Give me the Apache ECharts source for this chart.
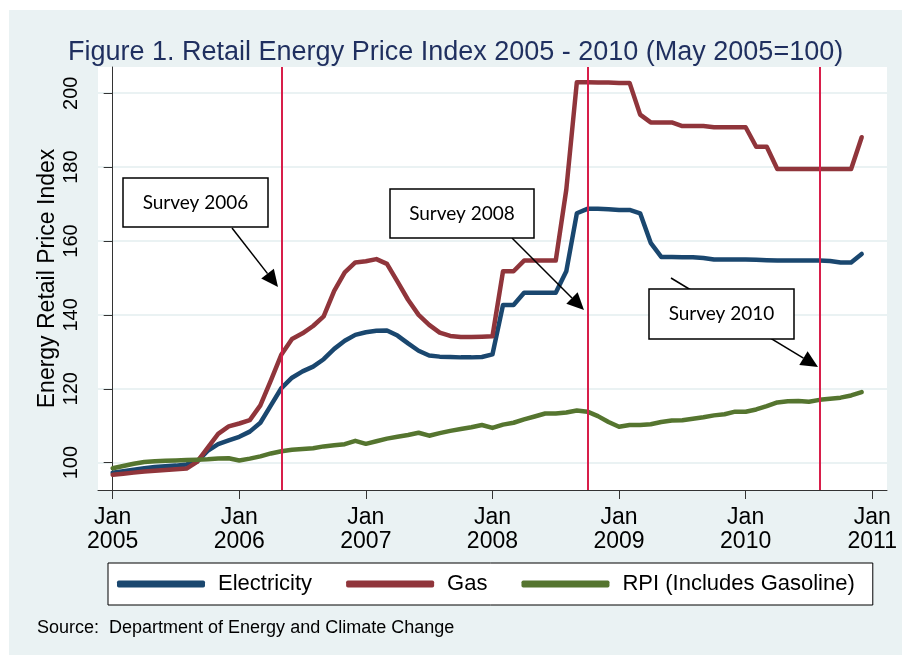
<!DOCTYPE html>
<html>
<head>
<meta charset="utf-8">
<script src="https://cdn.jsdelivr.net/npm/echarts@6/dist/echarts.min.js"></script>
<style>
  html, body { margin: 0; padding: 0; background: #fff; }
  #chart { width: 902px; height: 655px; }
</style>
</head>
<body>
<div id="chart"></div>
<script>
// Monthly index, month 0 = Jan 2005 ... month 71 = Dec 2010
const electricity = [
    97.3, 97.7, 98.1, 98.5, 98.8, 99.0, 99.2, 99.5, 100.3, 103.2, 105.0, 106.0,
    107.0, 108.4, 110.8, 115.5, 120.2, 123.0, 124.7, 126.0, 128.0, 130.8, 133.0, 134.6,
    135.3, 135.7, 135.8, 134.4, 132.3, 130.3, 129.0, 128.7, 128.6, 128.5, 128.5, 128.6,
    129.3, 142.7, 142.7, 146.0, 146.0, 146.0, 146.0, 151.8, 167.5, 168.7, 168.7, 168.6,
    168.4, 168.4, 167.5, 159.5, 155.7, 155.7, 155.6, 155.6, 155.4, 155.0, 155.0, 155.0,
    155.0, 154.9, 154.8, 154.7, 154.7, 154.7, 154.7, 154.7, 154.6, 154.2, 154.2, 156.5
];
const gas = [
    96.7, 97.0, 97.3, 97.6, 97.8, 98.0, 98.2, 98.4, 100.2, 104.0, 107.8, 109.8,
    110.6, 111.5, 115.5, 122.3, 129.3, 133.5, 135.0, 137.0, 139.6, 146.5, 151.5, 154.2,
    154.5, 155.1, 153.8, 149.0, 144.1, 140.0, 137.3, 135.2, 134.3, 134.0, 134.0, 134.1,
    134.2, 151.8, 151.8, 154.7, 154.7, 154.7, 154.7, 173.9, 203.0, 203.0, 202.9, 202.9,
    202.8, 202.8, 194.2, 192.1, 192.1, 192.1, 191.1, 191.1, 191.1, 190.8, 190.8, 190.8,
    190.8, 185.5, 185.5, 179.5, 179.5, 179.5, 179.5, 179.5, 179.5, 179.5, 179.5, 188.1
];
const rpi = [
    98.5, 99.1, 99.7, 100.2, 100.4, 100.5, 100.6, 100.7, 100.8, 100.9, 101.1, 101.2,
    100.6, 101.1, 101.7, 102.5, 103.1, 103.5, 103.7, 103.9, 104.4, 104.7, 105.0, 105.9,
    105.1, 105.8, 106.5, 107.0, 107.5, 108.1, 107.3, 108.0, 108.6, 109.1, 109.6, 110.2,
    109.4, 110.3, 110.8, 111.7, 112.5, 113.3, 113.3, 113.6, 114.1, 113.8, 112.6, 111.0,
    109.7, 110.2, 110.2, 110.4, 111.0, 111.4, 111.5, 111.9, 112.3, 112.8, 113.1, 113.8,
    113.8, 114.4, 115.3, 116.3, 116.6, 116.7, 116.5, 117.0, 117.3, 117.6, 118.2, 119.1
];
const yearTicks = [0, 12, 24, 36, 48, 60, 72];
const yearLabels = ['2005', '2006', '2007', '2008', '2009', '2010', '2011'];
const yTicks = [100, 120, 140, 160, 180, 200];
const surveyMonths = [16, 45, 67];   // May 2006, Oct 2008, Aug 2010
const surveyNames = ['Survey 2006', 'Survey 2008', 'Survey 2010'];

const FONT = "'Liberation Sans', Arial, sans-serif";

const toPoints = arr => arr.map((v, i) => [i, v]);

// arrow = line + filled head
function arrow(x1, y1, x2, y2) {
    const a = Math.atan2(y2 - y1, x2 - x1);
    const len = 17, half = 8;
    const bx = x2 - len * Math.cos(a), by = y2 - len * Math.sin(a);
    return [
        { type: 'line', z: 10, silent: true,
          shape: { x1: x1, y1: y1, x2: bx, y2: by },
          style: { stroke: '#000', lineWidth: 1.5 } },
        { type: 'polygon', z: 10, silent: true,
          shape: { points: [[x2, y2],
                            [bx + half * Math.sin(a), by - half * Math.cos(a)],
                            [bx - half * Math.sin(a), by + half * Math.cos(a)]] },
          style: { fill: '#000' } }
    ];
}

function box(x, y, w, h, label) {
    return [
        { type: 'rect', z: 11, silent: true,
          shape: { x: x, y: y, width: w, height: h },
          style: { fill: '#fff', stroke: '#000', lineWidth: 1.5 } },
        { type: 'text', z: 12, silent: true,
          style: { x: x + w / 2, y: y + h / 2, text: label, align: 'center', verticalAlign: 'middle',
                   fontFamily: 'Lato', fontSize: 19, fill: '#000' } }
    ];
}

const chart = echarts.init(document.getElementById('chart'));

const option = {
    animation: false,
    backgroundColor: '#fff',
    title: [
        {
            text: 'Figure 1. Retail Energy Price Index 2005 - 2010 (May 2005=100)',
            left: 63,
            top: 34,
            textStyle: { fontFamily: FONT, fontSize: 27, fontWeight: 'normal', color: '#1f2f5f' }
        },
        {
            text: 'Source:  Department of Energy and Climate Change',
            left: 32,
            top: 614,
            textStyle: { fontFamily: FONT, fontSize: 18, fontWeight: 'normal', color: '#000' }
        }
    ],
    graphic: [
        { type: 'rect', z: -10, silent: true,
          shape: { x: 9, y: 10, width: 893, height: 645 },
          style: { fill: '#eaf2f3' } },
        ...arrow(232, 228, 278, 287),
        ...arrow(512, 238, 584, 310),
        ...arrow(671, 278, 818, 367),
        ...box(123, 178, 145, 49, surveyNames[0]),
        ...box(390, 189, 144, 49, surveyNames[1]),
        ...box(649, 289, 145, 50, surveyNames[2])
    ],
    legend: {
        left: 108,
        top: 563,
        padding: [10, 18, 10, 9],
        itemGap: 34,
        itemWidth: 88,
        itemHeight: 7,
        icon: 'roundRect',
        borderColor: '#000',
        borderWidth: 1,
        backgroundColor: '#fff',
        textStyle: { fontFamily: FONT, fontSize: 22, color: '#000', padding: [0, 0, 0, 8] },
        data: ['Electricity', 'Gas', 'RPI (Includes Gasoline)']
    },
    grid: {
        left: 98,
        top: 67,
        width: 789,
        height: 423,
        show: true,
        backgroundColor: '#fff',
        borderWidth: 0
    },
    xAxis: {
        type: 'value',
        min: -1.39,
        max: 73.4,
        axisLine: { lineStyle: { color: '#333', width: 1 } },
        axisTick: { customValues: yearTicks, length: 9, lineStyle: { color: '#333' } },
        axisLabel: {
            customValues: yearTicks,
            margin: 16,
            fontFamily: FONT,
            fontSize: 23,
            lineHeight: 24,
            color: '#000',
            formatter: v => 'Jan\n' + yearLabels[yearTicks.indexOf(v)]
        },
        splitLine: { show: false }
    },
    yAxis: {
        type: 'value',
        min: 92.6,
        max: 207.1,
        name: 'Energy Retail Price Index',
        nameLocation: 'middle',
        nameGap: 39,
        nameMoveOverlap: false,
        nameTextStyle: { fontFamily: FONT, fontSize: 23, color: '#000' },
        axisLine: { show: true, lineStyle: { color: '#333', width: 1 } },
        axisTick: { show: true, customValues: yTicks, length: 9, lineStyle: { color: '#333' } },
        axisLabel: {
            customValues: yTicks,
            rotate: 90,
            margin: 17,
            fontFamily: FONT,
            fontSize: 20,
            color: '#000'
        },
        splitLine: { show: true, lineStyle: { color: '#eaf2f3', width: 2 } }
    },
    series: [
        {
            name: 'Electricity',
            type: 'line',
            data: toPoints(electricity),
            symbol: 'none',
            lineStyle: { color: '#1a476f', width: 4.5, cap: 'round', join: 'round' },
            itemStyle: { color: '#1a476f' }
        },
        {
            name: 'Gas',
            type: 'line',
            data: toPoints(gas),
            symbol: 'none',
            lineStyle: { color: '#90353b', width: 4.5, cap: 'round', join: 'round' },
            itemStyle: { color: '#90353b' }
        },
        {
            name: 'RPI (Includes Gasoline)',
            type: 'line',
            data: toPoints(rpi),
            symbol: 'none',
            lineStyle: { color: '#55752f', width: 4.5, cap: 'round', join: 'round' },
            itemStyle: { color: '#55752f' },
            markLine: {
                silent: true,
                symbol: 'none',
                label: { show: false },
                lineStyle: { color: '#d81e4a', width: 2, type: 'solid' },
                data: surveyMonths.map(m => ({ xAxis: m }))
            }
        }
    ]
};

chart.setOption(option);
</script>
</body>
</html>
